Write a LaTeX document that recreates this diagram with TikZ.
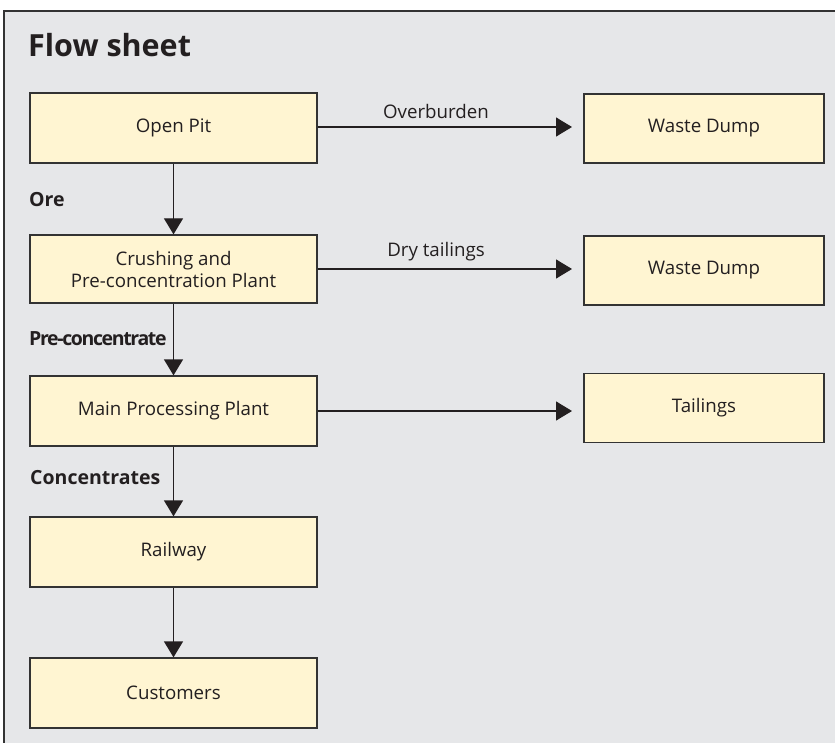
\documentclass[tikz,border=0pt]{standalone}
\usepackage{fontspec}
\setmainfont{Open Sans}
\usetikzlibrary{arrows.meta}
\definecolor{bggray}{HTML}{E6E7E9}
\definecolor{boxfill}{HTML}{FFF5D2}
\definecolor{edgegray}{HTML}{333333}
\definecolor{inkdark}{HTML}{231F20}
\tikzset{
  flowbox/.style={draw=edgegray, line width=1.3pt, fill=boxfill, inner sep=0pt, align=center, font=\fontsize{18.7}{22}\selectfont, text=inkdark},
  leftbox/.style={flowbox, minimum width=287pt, minimum height=70pt},
  rightbox/.style={flowbox, minimum width=240pt, minimum height=69pt},
  flowarrow/.style={draw=inkdark, line width=1.3pt, -{Triangle[length=16pt,width=19pt]}},
  edgelabel/.style={font=\fontsize{18.7}{22}\selectfont, text=inkdark, inner sep=0pt},
  boldlabel/.style={font=\bfseries\fontsize{19.5}{23}\selectfont, text=inkdark, inner sep=0pt, anchor=west},
}
\begin{document}
\begin{tikzpicture}[x=1pt, y=-1pt]
\useasboundingbox (0,0) rectangle (835,743);
\fill[white] (0,0) rectangle (835,743);
\fill[bggray] (4,11) rectangle (835,743);
\draw[edgegray, line width=1.3pt] (4,743) -- (4,11) -- (835,11);
\node[font=\bfseries\fontsize{30.5}{36}\selectfont, text=inkdark, anchor=west, inner sep=0pt] (title) at (28,45) {Flow sheet};
\node[leftbox] (pit) at (173.5,128) {Open Pit};
\node[leftbox, minimum height=68pt] (crush) at (173.5,269) {Crushing and\\Pre-concentration Plant};
\node[leftbox] (main) at (173.5,411) {Main Processing Plant};
\node[leftbox] (rail) at (173.5,552) {Railway};
\node[leftbox] (cust) at (173.5,693) {Customers};
\node[rightbox] (dump1) at (704,128.5) {Waste Dump};
\node[rightbox] (dump2) at (704,270.5) {Waste Dump};
\node[rightbox] (tail) at (704,408) {Tailings};
\draw[flowarrow] (pit.south) -- (crush.north);
\draw[flowarrow] (crush.south) -- (main.north);
\draw[flowarrow] (main.south) -- (rail.north);
\draw[flowarrow] (rail.south) -- (cust.north);
\coordinate (e1) at (572,127);
\coordinate (e2) at (572,269);
\coordinate (e3) at (572,411);
\draw[flowarrow] (pit.east |- e1) -- (e1);
\draw[flowarrow] (crush.east |- e2) -- (e2);
\draw[flowarrow] (main.east |- e3) -- (e3);
\node[edgelabel] (lover) at (436,111) {Overburden};
\node[edgelabel] (ldry) at (436,252) {Dry tailings};
\node[boldlabel] (lore) at (29,200) {Ore};
\node[boldlabel, font=\bfseries\fontsize{19.5}{23}\selectfont\addfontfeatures{LetterSpace=-7}] (lpre) at (29,339) {Pre-concentrate};
\node[boldlabel] (lconc) at (30,478) {Concentrates};
\end{tikzpicture}
\end{document}
